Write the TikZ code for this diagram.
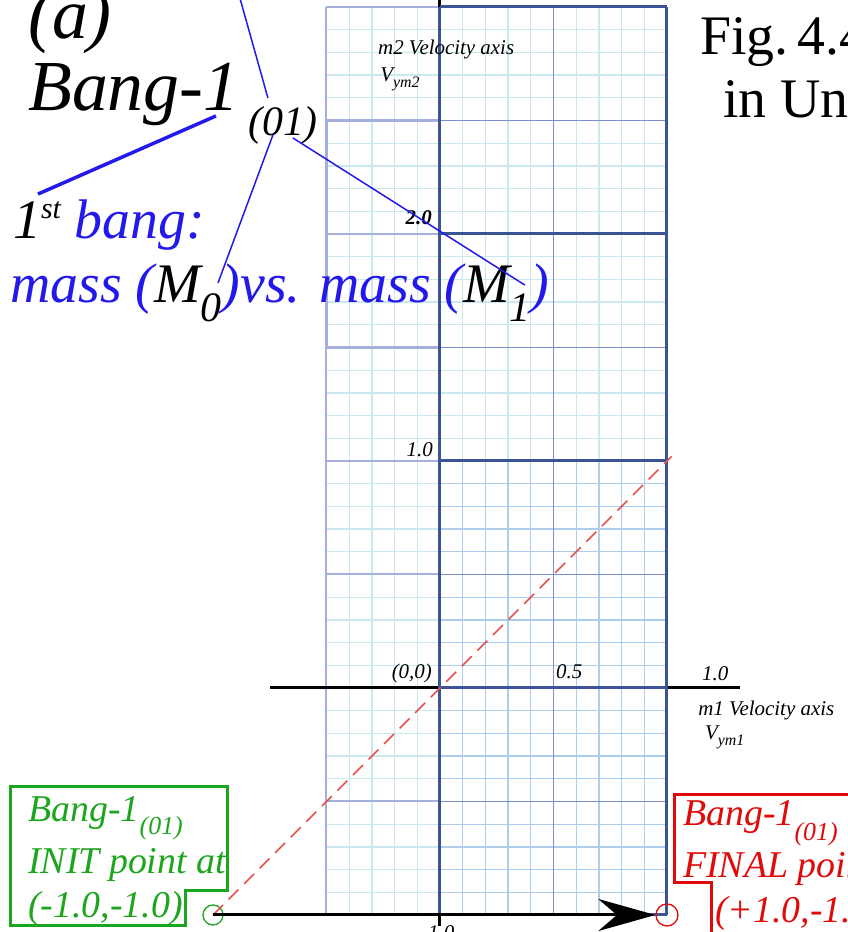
\documentclass[tikz,border=0pt]{standalone}
\usepackage{fontspec}
\setmainfont{Liberation Serif}
\usepackage{xcolor}
\usetikzlibrary{arrows.meta}
\definecolor{gdark}{RGB}{58,84,150}
\definecolor{gmid}{RGB}{125,140,205}
\definecolor{gpale}{RGB}{165,175,222}
\definecolor{gblue}{RGB}{172,205,235}
\definecolor{gteal}{RGB}{202,232,238}
\definecolor{lblue}{RGB}{35,25,235}
\definecolor{lgreen}{RGB}{30,165,30}
\definecolor{lred}{RGB}{225,10,10}
\definecolor{dred}{RGB}{232,80,80}
\newcommand{\fsz}[1]{\fontsize{#1}{#1}\selectfont}
\newcommand{\vgrid}[5]{%
  \foreach \i in {#1,...,#2}{\draw[minor,#5] ({\i/10},{#3/10}) -- ({\i/10},{#4/10});}
  \foreach \j in {#3,...,#4}{\draw[minor,#5] ({#1/10},{\j/10}) -- ({#2/10},{\j/10});}}
\newcommand{\vsub}[3]{\raisebox{-#1bp}{\fsz{#2}#3}}
\tikzset{
  minor/.style={line width=1.3bp},
  lab/.style={inner sep=0pt,anchor=base west,font=\itshape},
  tick/.style={lab,font=\fsz{21}\itshape},
  lead/.style={lblue,line width=1.5bp},
  pt/.style={circle,inner sep=0pt,line width=1.3bp}
}

\begin{document}
\begin{tikzpicture}[x=227bp,y=227bp]
  \useasboundingbox (-1.9383,-1.0749) rectangle (1.7974,3.0308);
  \vgrid{-5}{0}{-10}{30}{gteal}
  \vgrid{0}{10}{10}{30}{gteal}
  \vgrid{0}{10}{-10}{10}{gblue}
  \foreach \j in {-1,-0.5,...,3}{\draw[gpale,line width=2bp] (-0.5,\j) -- (0,\j);}
  \draw[gpale,line width=2bp] (-0.5,-1) -- (-0.5,3);
  \draw[gpale,line width=3bp] (-0.5,1.5) rectangle (0,2.5);
  \draw[gmid,line width=1.8bp] (0.5,-1) -- (0.5,3);
  \foreach \j in {-0.5,0.5,1.5,2.5}{\draw[gmid,line width=1.8bp] (0,\j) -- (1,\j);}
  \draw[line width=3bp] (-0.749,0) -- (1.322,0);
  \draw[line width=3bp] (0,-1.05) -- (0,3.1);
  \foreach \j in {-1,...,3}{\draw[gdark,line width=3bp] (0,\j) -- (1,\j);}
  \draw[gdark,line width=3bp] (0,-1) -- (0,3) (1,-1) -- (1,3);

  \node[tick] (m2ax) at (-0.273,2.789) {m2 Velocity axis};
  \node[tick] (m2v) at (-0.264,2.670) {V\vsub{6}{16}{ym2}};
  \node[tick,anchor=base east,font=\fsz{21}\bfseries\itshape] (t20) at (-0.035,2.040) {2.0};
  \node[tick,anchor=base east] (t10) at (-0.031,1.018) {1.0};
  \node[tick,anchor=base east] (t00) at (-0.035,0.044) {(0,0)};
  \node[tick] (t05) at (0.511,0.044) {0.5};
  \node[tick] (t10x) at (1.154,0.035) {1.0};
  \node[tick,anchor=north] (tm10) at (-0.01,-1.044) {-1.0};
  \node[tick] (m1ax) at (1.137,-0.119) {m1 Velocity axis};
  \node[tick] (m1v) at (1.167,-0.229) {V\vsub{6}{16}{ym1}};

  \node[pt,draw=lgreen,minimum size=20bp] (ini) at (-1,-1) {};
  \node[pt,draw=lred,minimum size=22bp] (fin) at (1,-1) {};
  \coordinate (dend) at (1.02,1.02);
  \draw[dred,line width=1.7bp,dash pattern=on 14bp off 8bp] (ini.center) -- (dend);
  \draw[line width=3bp,-{Stealth[length=57bp,width=32bp]}] (ini.center) -- (fin);

  \node[lab,font=\fsz{72}\itshape] (pa) at (-1.815,2.863) {(a)};
  \node[lab,font=\fsz{72}\itshape] (bang) at (-1.815,2.546) {Bang-1};
  \node[lab,font=\fsz{42}\itshape] (b01) at (-0.846,2.436) {(01)};
  \node[lab,font=\fsz{56}\itshape] (first) at (-1.881,1.982)
    {1\raisebox{20bp}{\fsz{30}st} \textcolor{lblue}{bang:}};
  \node[lab,font=\fsz{56}\itshape,lblue] (mass) at (-1.894,1.696)
    {mass (\textcolor{black}{M\vsub{19}{42}{0}})vs. mass (\textcolor{black}{M\vsub{19}{42}{1}})};
  \node[lab,font=\fsz{56}] (fig) at (1.145,2.789) {Fig.\,4.4};
  \node[lab,font=\fsz{56}] (unit) at (1.247,2.511) {in Units};

  \coordinate (ktop) at (-0.894,3.084);
  \coordinate (kA) at (-0.758,2.599);
  \coordinate (kB1) at (-0.987,2.520);
  \coordinate (kB2) at (-1.771,2.176);
  \coordinate (kC1) at (-0.736,2.436);
  \coordinate (kC2) at (-0.978,1.784);
  \coordinate (kD1) at (-0.648,2.423);
  \coordinate (kD2) at (0.374,1.775);
  \draw[lead] (ktop) -- (kA);
  \draw[lead,line width=3.5bp] (kB1) -- (kB2);
  \draw[lead] (kC1) -- (kC2);
  \draw[lead] (kD1) -- (kD2);

  \draw[lgreen,line width=3bp] (-1.894,-0.436) -- (-0.934,-0.436) -- (-0.934,-0.890)
    -- (-1.119,-0.890) -- (-1.119,-1.048) -- (-1.894,-1.048) -- cycle;
  \node[lab,font=\fsz{38}\itshape,lgreen] (gb1) at (-1.815,-0.590) {Bang-1\vsub{13}{26}{(01)}};
  \node[lab,font=\fsz{38}\itshape,lgreen] (gb2) at (-1.815,-0.815) {INIT point at};
  \node[lab,font=\fsz{38}\itshape,lgreen] (gb3) at (-1.815,-1.009) {(-1.0,-1.0)};

  \draw[lred,line width=3bp] (1.9,-0.467) -- (1.035,-0.467) -- (1.035,-0.859)
    -- (1.198,-0.859) -- (1.198,-1.12);
  \node[lab,font=\fsz{38}\itshape,lred] (rb1) at (1.070,-0.604) {Bang-1\vsub{15}{26}{(01)}};
  \node[lab,font=\fsz{38}\itshape,lred] (rb2) at (1.070,-0.837) {FINAL point at};
  \node[lab,font=\fsz{38}\itshape,lred] (rb3) at (1.211,-1.031) {(+1.0,-1.0)};
\end{tikzpicture}
\end{document}
